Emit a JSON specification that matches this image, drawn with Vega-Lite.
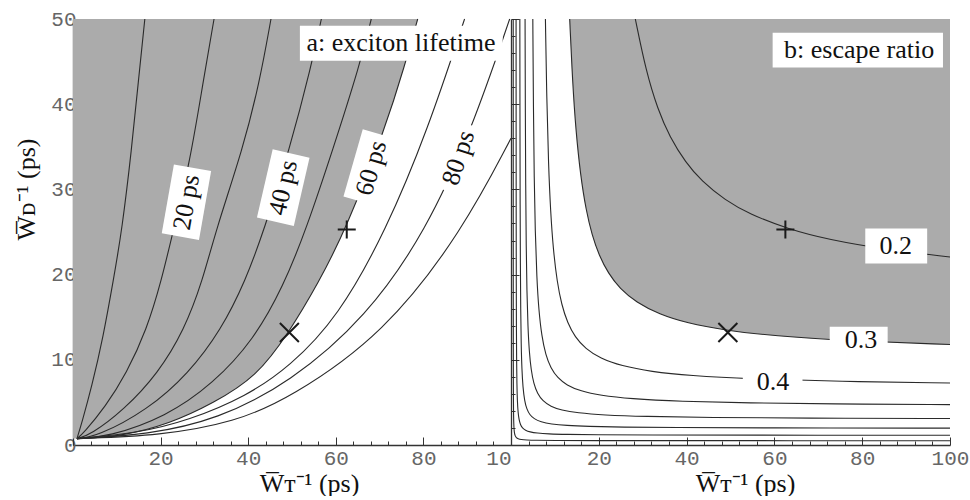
{
  "$schema": "https://vega.github.io/schema/vega-lite/v6.json",
  "background": "white",
  "padding": {"left": 13, "top": 8, "right": 0, "bottom": 0},
  "spacing": 0,
  "bounds": "flush",
  "config": {
    "view": {"stroke": null},
    "axis": {
      "grid": false,
      "domainColor": "#333",
      "domainWidth": 1.3,
      "tickColor": "#333",
      "tickWidth": 1,
      "labelFont": "Liberation Mono",
      "labelFontSize": 21,
      "labelColor": "#666",
      "labelFlush": false,
      "labelOverlap": false,
      "labelBound": false,
      "titleFont": "Liberation Serif",
      "titleFontSize": 26,
      "titleFontWeight": "normal",
      "titleColor": "#111"
    }
  },
  "datasets": {
    "lifeLines": [
      {"tau": 10, "x": 0.9, "y": 0.75}, {"tau": 10, "x": 1.98, "y": 2.54}, {"tau": 10, "x": 4.26, "y": 6.8}, {"tau": 10, "x": 6.9, "y": 12.7}, {"tau": 10, "x": 9.2, "y": 19.3}, {"tau": 10, "x": 11.2, "y": 25.3}, {"tau": 10, "x": 13.4, "y": 34.8}, {"tau": 10, "x": 14.9, "y": 42.6}, {"tau": 10, "x": 16.4, "y": 50},
      {"tau": 20, "x": 0.9, "y": 0.75}, {"tau": 20, "x": 2.35, "y": 1.37}, {"tau": 20, "x": 7.4, "y": 4.5}, {"tau": 20, "x": 12.2, "y": 8.4}, {"tau": 20, "x": 16.8, "y": 13.5}, {"tau": 20, "x": 20.2, "y": 19.3}, {"tau": 20, "x": 22.9, "y": 25.2}, {"tau": 20, "x": 26.7, "y": 33.2}, {"tau": 20, "x": 29.7, "y": 42.6}, {"tau": 20, "x": 32.2, "y": 50},
      {"tau": 30, "x": 0.9, "y": 0.75}, {"tau": 30, "x": 3.9, "y": 1.17}, {"tau": 30, "x": 11.6, "y": 4.1}, {"tau": 30, "x": 19.4, "y": 8.4}, {"tau": 30, "x": 25.4, "y": 13.5}, {"tau": 30, "x": 29.6, "y": 19.3}, {"tau": 30, "x": 32.6, "y": 25.2}, {"tau": 30, "x": 38.8, "y": 34.8}, {"tau": 30, "x": 42.6, "y": 42.6}, {"tau": 30, "x": 45.2, "y": 50},
      {"tau": 40, "x": 0.9, "y": 0.75}, {"tau": 40, "x": 5.4, "y": 0.97}, {"tau": 40, "x": 17.0, "y": 4.1}, {"tau": 40, "x": 26.4, "y": 8.4}, {"tau": 40, "x": 33.8, "y": 13.5}, {"tau": 40, "x": 39.4, "y": 19.3}, {"tau": 40, "x": 43.6, "y": 25.2}, {"tau": 40, "x": 49.5, "y": 34.8}, {"tau": 40, "x": 54.4, "y": 44.5}, {"tau": 40, "x": 56.7, "y": 50},
      {"tau": 50, "x": 0.9, "y": 0.75}, {"tau": 50, "x": 8.0, "y": 0.95}, {"tau": 50, "x": 21.2, "y": 3.3}, {"tau": 50, "x": 32.0, "y": 7.2}, {"tau": 50, "x": 41.2, "y": 12.3}, {"tau": 50, "x": 48.0, "y": 18.6}, {"tau": 50, "x": 53.3, "y": 25.4}, {"tau": 50, "x": 59.4, "y": 34.8}, {"tau": 50, "x": 65.4, "y": 44.5}, {"tau": 50, "x": 68.1, "y": 50},
      {"tau": 60, "x": 0.9, "y": 0.75}, {"tau": 60, "x": 10.7, "y": 0.97}, {"tau": 60, "x": 22.1, "y": 2.5}, {"tau": 60, "x": 32.0, "y": 4.9}, {"tau": 60, "x": 41.9, "y": 8.0}, {"tau": 60, "x": 49.3, "y": 13.2}, {"tau": 60, "x": 56.0, "y": 19.0}, {"tau": 60, "x": 62.4, "y": 25.4}, {"tau": 60, "x": 71.5, "y": 37.5}, {"tau": 60, "x": 75.7, "y": 44.5}, {"tau": 60, "x": 78.7, "y": 50},
      {"tau": 70, "x": 0.9, "y": 0.75}, {"tau": 70, "x": 14.5, "y": 1.37}, {"tau": 70, "x": 26.5, "y": 2.9}, {"tau": 70, "x": 39.5, "y": 5.7}, {"tau": 70, "x": 49.5, "y": 9.2}, {"tau": 70, "x": 60.5, "y": 15.0}, {"tau": 70, "x": 71.5, "y": 25.2}, {"tau": 70, "x": 81.0, "y": 37.0}, {"tau": 70, "x": 89.4, "y": 50},
      {"tau": 80, "x": 0.9, "y": 0.75}, {"tau": 80, "x": 17.0, "y": 1.2}, {"tau": 80, "x": 33.0, "y": 3.0}, {"tau": 80, "x": 49.5, "y": 7.3}, {"tau": 80, "x": 67.0, "y": 15.0}, {"tau": 80, "x": 80.7, "y": 25.2}, {"tau": 80, "x": 91.0, "y": 37.0}, {"tau": 80, "x": 99.7, "y": 50},
      {"tau": 90, "x": 0.9, "y": 0.75}, {"tau": 90, "x": 20.0, "y": 1.1}, {"tau": 90, "x": 37.0, "y": 2.7}, {"tau": 90, "x": 49.5, "y": 5.5}, {"tau": 90, "x": 71.0, "y": 13.0}, {"tau": 90, "x": 89.0, "y": 25.2}, {"tau": 90, "x": 100, "y": 36.0}
    ],
    "lifeShade": [
      {"x": 0.9, "y": 0.75}, {"x": 10.7, "y": 0.97}, {"x": 22.1, "y": 2.5}, {"x": 32.0, "y": 4.9}, {"x": 41.9, "y": 8.0}, {"x": 49.3, "y": 13.2}, {"x": 56.0, "y": 19.0}, {"x": 62.4, "y": 25.4}, {"x": 71.5, "y": 37.5}, {"x": 75.7, "y": 44.5}, {"x": 78.7, "y": 50}
    ],
    "escLines": [
      {"phi": 0.2, "x": 28.32, "y": 50}, {"phi": 0.2, "x": 30.74, "y": 43.91}, {"phi": 0.2, "x": 33.45, "y": 39.35}, {"phi": 0.2, "x": 36.16, "y": 36.16}, {"phi": 0.2, "x": 39.78, "y": 33.15}, {"phi": 0.2, "x": 43.39, "y": 30.99}, {"phi": 0.2, "x": 48.82, "y": 28.71}, {"phi": 0.2, "x": 54.24, "y": 27.12}, {"phi": 0.2, "x": 63.28, "y": 25.31}, {"phi": 0.2, "x": 72.32, "y": 24.11}, {"phi": 0.2, "x": 84.98, "y": 22.97}, {"phi": 0.2, "x": 100, "y": 22.07},
      {"phi": 0.3, "x": 13.37, "y": 50}, {"phi": 0.3, "x": 14.03, "y": 42.52}, {"phi": 0.3, "x": 14.77, "y": 36.93}, {"phi": 0.3, "x": 15.83, "y": 31.65}, {"phi": 0.3, "x": 17.09, "y": 27.57}, {"phi": 0.3, "x": 18.46, "y": 24.62}, {"phi": 0.3, "x": 20.05, "y": 22.27}, {"phi": 0.3, "x": 22.16, "y": 20.14}, {"phi": 0.3, "x": 24.79, "y": 18.36}, {"phi": 0.3, "x": 28.49, "y": 16.76}, {"phi": 0.3, "x": 33.76, "y": 15.35}, {"phi": 0.3, "x": 40.09, "y": 14.32}, {"phi": 0.3, "x": 48.53, "y": 13.48}, {"phi": 0.3, "x": 60.14, "y": 12.79}, {"phi": 0.3, "x": 75.96, "y": 12.25}, {"phi": 0.3, "x": 100, "y": 11.79},
      {"phi": 0.4, "x": 7.84, "y": 50}, {"phi": 0.4, "x": 8.136, "y": 40.68}, {"phi": 0.4, "x": 8.543, "y": 32.86}, {"phi": 0.4, "x": 9.017, "y": 27.33}, {"phi": 0.4, "x": 9.628, "y": 22.92}, {"phi": 0.4, "x": 10.51, "y": 19.11}, {"phi": 0.4, "x": 11.53, "y": 16.47}, {"phi": 0.4, "x": 12.88, "y": 14.31}, {"phi": 0.4, "x": 14.58, "y": 12.68}, {"phi": 0.4, "x": 16.95, "y": 11.3}, {"phi": 0.4, "x": 20.34, "y": 10.17}, {"phi": 0.4, "x": 25.09, "y": 9.29}, {"phi": 0.4, "x": 31.87, "y": 8.61}, {"phi": 0.4, "x": 40.68, "y": 8.136}, {"phi": 0.4, "x": 54.24, "y": 7.749}, {"phi": 0.4, "x": 74.58, "y": 7.458}, {"phi": 0.4, "x": 100, "y": 7.27},
      {"phi": 0.5, "x": 4.969, "y": 50}, {"phi": 0.5, "x": 5.108, "y": 39.29}, {"phi": 0.5, "x": 5.288, "y": 31.11}, {"phi": 0.5, "x": 5.514, "y": 25.07}, {"phi": 0.5, "x": 5.876, "y": 19.59}, {"phi": 0.5, "x": 6.328, "y": 15.82}, {"phi": 0.5, "x": 7.006, "y": 12.74}, {"phi": 0.5, "x": 7.91, "y": 10.55}, {"phi": 0.5, "x": 9.04, "y": 9.04}, {"phi": 0.5, "x": 10.62, "y": 7.868}, {"phi": 0.5, "x": 12.66, "y": 7.031}, {"phi": 0.5, "x": 15.82, "y": 6.328}, {"phi": 0.5, "x": 20.34, "y": 5.811}, {"phi": 0.5, "x": 27.12, "y": 5.424}, {"phi": 0.5, "x": 38.42, "y": 5.123}, {"phi": 0.5, "x": 54.24, "y": 4.931}, {"phi": 0.5, "x": 72.32, "y": 4.821}, {"phi": 0.5, "x": 100, "y": 4.734},
      {"phi": 0.6, "x": 3.206, "y": 50}, {"phi": 0.6, "x": 3.269, "y": 38.46}, {"phi": 0.6, "x": 3.344, "y": 30.4}, {"phi": 0.6, "x": 3.465, "y": 23.1}, {"phi": 0.6, "x": 3.616, "y": 18.08}, {"phi": 0.6, "x": 3.857, "y": 13.77}, {"phi": 0.6, "x": 4.158, "y": 10.94}, {"phi": 0.6, "x": 4.58, "y": 8.807}, {"phi": 0.6, "x": 5.182, "y": 7.198}, {"phi": 0.6, "x": 6.026, "y": 6.026}, {"phi": 0.6, "x": 7.231, "y": 5.165}, {"phi": 0.6, "x": 9.039, "y": 4.52}, {"phi": 0.6, "x": 11.45, "y": 4.089}, {"phi": 0.6, "x": 15.07, "y": 3.766}, {"phi": 0.6, "x": 21.09, "y": 3.515}, {"phi": 0.6, "x": 30.13, "y": 3.348}, {"phi": 0.6, "x": 45.2, "y": 3.228}, {"phi": 0.6, "x": 66.29, "y": 3.156}, {"phi": 0.6, "x": 100, "y": 3.107},
      {"phi": 0.7, "x": 2.015, "y": 50}, {"phi": 0.7, "x": 2.044, "y": 37.15}, {"phi": 0.7, "x": 2.082, "y": 27.76}, {"phi": 0.7, "x": 2.131, "y": 21.31}, {"phi": 0.7, "x": 2.208, "y": 15.77}, {"phi": 0.7, "x": 2.324, "y": 11.62}, {"phi": 0.7, "x": 2.479, "y": 8.855}, {"phi": 0.7, "x": 2.712, "y": 6.78}, {"phi": 0.7, "x": 3.099, "y": 5.165}, {"phi": 0.7, "x": 3.583, "y": 4.216}, {"phi": 0.7, "x": 4.261, "y": 3.551}, {"phi": 0.7, "x": 5.23, "y": 3.076}, {"phi": 0.7, "x": 6.78, "y": 2.712}, {"phi": 0.7, "x": 9.104, "y": 2.461}, {"phi": 0.7, "x": 12.59, "y": 2.289}, {"phi": 0.7, "x": 17.43, "y": 2.179}, {"phi": 0.7, "x": 25.18, "y": 2.098}, {"phi": 0.7, "x": 36.8, "y": 2.045}, {"phi": 0.7, "x": 56.17, "y": 2.006}, {"phi": 0.7, "x": 100, "y": 1.975},
      {"phi": 0.8, "x": 1.156, "y": 50}, {"phi": 0.8, "x": 1.166, "y": 36.44}, {"phi": 0.8, "x": 1.181, "y": 26.24}, {"phi": 0.8, "x": 1.203, "y": 18.51}, {"phi": 0.8, "x": 1.232, "y": 13.69}, {"phi": 0.8, "x": 1.277, "y": 9.822}, {"phi": 0.8, "x": 1.345, "y": 7.077}, {"phi": 0.8, "x": 1.446, "y": 5.166}, {"phi": 0.8, "x": 1.605, "y": 3.821}, {"phi": 0.8, "x": 1.831, "y": 2.953}, {"phi": 0.8, "x": 2.147, "y": 2.386}, {"phi": 0.8, "x": 2.599, "y": 1.999}, {"phi": 0.8, "x": 3.277, "y": 1.725}, {"phi": 0.8, "x": 4.294, "y": 1.534}, {"phi": 0.8, "x": 5.876, "y": 1.399}, {"phi": 0.8, "x": 8.475, "y": 1.304}, {"phi": 0.8, "x": 12.43, "y": 1.243}, {"phi": 0.8, "x": 19.21, "y": 1.201}, {"phi": 0.8, "x": 30.51, "y": 1.173}, {"phi": 0.8, "x": 51.98, "y": 1.155}, {"phi": 0.8, "x": 100, "y": 1.143},
      {"phi": 0.9, "x": 0.507, "y": 50}, {"phi": 0.9, "x": 0.5095, "y": 33.97}, {"phi": 0.9, "x": 0.513, "y": 23.32}, {"phi": 0.9, "x": 0.5186, "y": 15.71}, {"phi": 0.9, "x": 0.5271, "y": 10.54}, {"phi": 0.9, "x": 0.5397, "y": 7.195}, {"phi": 0.9, "x": 0.5572, "y": 5.066}, {"phi": 0.9, "x": 0.5873, "y": 3.455}, {"phi": 0.9, "x": 0.6325, "y": 2.433}, {"phi": 0.9, "x": 0.7028, "y": 1.757}, {"phi": 0.9, "x": 0.8032, "y": 1.339}, {"phi": 0.9, "x": 0.9538, "y": 1.06}, {"phi": 0.9, "x": 1.205, "y": 0.8606}, {"phi": 0.9, "x": 1.606, "y": 0.7302}, {"phi": 0.9, "x": 2.259, "y": 0.6454}, {"phi": 0.9, "x": 3.514, "y": 0.5857}, {"phi": 0.9, "x": 5.522, "y": 0.5522}, {"phi": 0.9, "x": 9.538, "y": 0.5299}, {"phi": 0.9, "x": 18.07, "y": 0.5163}, {"phi": 0.9, "x": 40.66, "y": 0.5083}, {"phi": 0.9, "x": 100, "y": 0.5045}
    ],
    "escShade": [
      {"x": 13.37, "y": 50}, {"x": 14.03, "y": 42.52}, {"x": 14.77, "y": 36.93}, {"x": 15.83, "y": 31.65}, {"x": 17.09, "y": 27.57}, {"x": 18.46, "y": 24.62}, {"x": 20.05, "y": 22.27}, {"x": 22.16, "y": 20.14}, {"x": 24.79, "y": 18.36}, {"x": 28.49, "y": 16.76}, {"x": 33.76, "y": 15.35}, {"x": 40.09, "y": 14.32}, {"x": 48.53, "y": 13.48}, {"x": 60.14, "y": 12.79}, {"x": 75.96, "y": 12.25}, {"x": 100, "y": 11.79}
    ],
    "lifeLabels": [
      {"t": "20 ps", "x": 25.9, "y": 28.5},
      {"t": "40 ps", "x": 48.0, "y": 30.2},
      {"t": "60 ps", "x": 68.1, "y": 32.5},
      {"t": "80 ps", "x": 88.0, "y": 33.7}
    ],
    "markers": [
      {"m": "plus", "x": 62.5, "y": 25.3},
      {"m": "cross", "x": 49.4, "y": 13.2}
    ],
    "frame": [{"y": 0, "y2": 50}]
  },
  "hconcat": [
    {
      "width": 438,
      "height": 426,
      "encoding": {
        "x": {
          "field": "x", "type": "quantitative",
          "scale": {"domain": [0, 100], "nice": false, "zero": false},
          "axis": {
            "values": [0,4,8,12,16,20,24,28,32,36,40,44,48,52,56,60,64,68,72,76,80,84,88,92,96,100],
            "labelExpr": "datum.value == 100 ? '10' : ((datum.value % 20 == 0 && datum.value > 0) ? datum.label : '')",
            "labelAlign": {"condition": {"test": "datum.value == 100", "value": "right"}, "value": "center"},
            "tickSize": {"condition": {"test": "datum.value % 20 == 0", "value": -8}, "value": -4},
            "labelPadding": 10,
            "title": "W̅ᴛ⁻¹ (ps)",
            "titleX": 236,
            "titleY": 46,
            "titleBaseline": "alphabetic"
          }
        },
        "y": {
          "field": "y", "type": "quantitative",
          "scale": {"domain": [0, 50], "nice": false, "zero": false},
          "axis": {
            "values": [0,2,4,6,8,10,12,14,16,18,20,22,24,26,28,30,32,34,36,38,40,42,44,46,48,50],
            "labelExpr": "datum.value % 10 == 0 ? datum.label : ''",
            "tickSize": {"condition": {"test": "datum.value % 10 == 0", "value": -8}, "value": -4},
            "labelPadding": 5,
            "titlePadding": 11,
            "title": "W̅ᴅ⁻¹ (ps)",
            "titleY": 170
          }
        }
      },
      "layer": [
        {
          "data": {"name": "lifeShade"},
          "mark": {"type": "area", "orient": "horizontal", "color": "#ababab", "interpolate": "basis"},
          "encoding": {"x2": {"datum": 0}}
        },
        {
          "data": {"name": "lifeLines"},
          "mark": {"type": "line", "color": "#2a2a2a", "strokeWidth": 1.1, "interpolate": "basis"},
          "encoding": {"detail": {"field": "tau"}, "order": {"field": "y", "type": "quantitative"}}
        },
        {
          "data": {"name": "frame"},
          "mark": {"type": "rule", "color": "#333", "strokeWidth": 1.3},
          "encoding": {"x": {"datum": 100, "type": "quantitative"}, "y2": {"field": "y2"}}
        },
        {
          "data": {"values": [{"x": 51.8, "x2": 98.1, "y": 45.1, "y2": 49.2}]},
          "mark": {"type": "rect", "color": "white"},
          "encoding": {"x2": {"field": "x2"}, "y2": {"field": "y2"}}
        },
        {
          "data": {"values": [{"x": 74.9, "y": 47.2, "t": "a: exciton lifetime"}]},
          "mark": {"type": "text", "font": "Liberation Serif", "fontSize": 26, "baseline": "middle", "color": "#111"},
          "encoding": {"text": {"field": "t"}}
        },
        {
          "data": {"name": "lifeLabels"},
          "transform": [{"filter": "datum.t == '20 ps'"}],
          "layer": [
            {"mark": {"type": "point", "shape": "M-1,-0.54L1,-0.54L1,0.54L-1,0.54Z", "size": 4900, "filled": true, "color": "white", "opacity": 1, "angle": 280}},
            {"mark": {"type": "text", "font": "Liberation Serif", "fontSize": 26, "baseline": "middle", "color": "#111", "angle": 280}, "encoding": {"text": {"field": "t"}}}
          ]
        },
        {
          "data": {"name": "lifeLabels"},
          "transform": [{"filter": "datum.t == '40 ps'"}],
          "layer": [
            {"mark": {"type": "point", "shape": "M-1,-0.54L1,-0.54L1,0.54L-1,0.54Z", "size": 4900, "filled": true, "color": "white", "opacity": 1, "angle": 283}},
            {"mark": {"type": "text", "font": "Liberation Serif", "fontSize": 26, "baseline": "middle", "color": "#111", "angle": 283}, "encoding": {"text": {"field": "t"}}}
          ]
        },
        {
          "data": {"name": "lifeLabels"},
          "transform": [{"filter": "datum.t == '60 ps'"}],
          "layer": [
            {"mark": {"type": "point", "shape": "M-1,-0.54L1,-0.54L1,0.54L-1,0.54Z", "size": 4900, "filled": true, "color": "white", "opacity": 1, "angle": 286}},
            {"mark": {"type": "text", "font": "Liberation Serif", "fontSize": 26, "baseline": "middle", "color": "#111", "angle": 286}, "encoding": {"text": {"field": "t"}}}
          ]
        },
        {
          "data": {"name": "lifeLabels"},
          "transform": [{"filter": "datum.t == '80 ps'"}],
          "layer": [
            {"mark": {"type": "point", "shape": "M-1,-0.54L1,-0.54L1,0.54L-1,0.54Z", "size": 4900, "filled": true, "color": "white", "opacity": 1, "angle": 288}},
            {"mark": {"type": "text", "font": "Liberation Serif", "fontSize": 26, "baseline": "middle", "color": "#111", "angle": 288}, "encoding": {"text": {"field": "t"}}}
          ]
        },
        {
          "data": {"name": "markers"},
          "transform": [{"filter": "datum.m == 'plus'"}],
          "mark": {"type": "point", "shape": "M-1,0L1,0M0,-1L0,1", "size": 324, "filled": false, "color": "#1a1a1a", "strokeWidth": 2, "opacity": 1}
        },
        {
          "data": {"name": "markers"},
          "transform": [{"filter": "datum.m == 'cross'"}],
          "mark": {"type": "point", "shape": "M-1,-1L1,1M-1,1L1,-1", "size": 361, "filled": false, "color": "#1a1a1a", "strokeWidth": 2, "opacity": 1}
        }
      ]
    },
    {
      "width": 439,
      "height": 426,
      "encoding": {
        "x": {
          "field": "x", "type": "quantitative",
          "scale": {"domain": [0, 100], "nice": false, "zero": false},
          "axis": {
            "values": [0,4,8,12,16,20,24,28,32,36,40,44,48,52,56,60,64,68,72,76,80,84,88,92,96,100],
            "labelExpr": "(datum.value % 20 == 0 && datum.value > 0) ? datum.label : ''",
            "tickSize": {"condition": {"test": "datum.value % 20 == 0", "value": -8}, "value": -4},
            "labelPadding": 10,
            "title": "W̅ᴛ⁻¹ (ps)",
            "titleX": 234,
            "titleY": 46,
            "titleBaseline": "alphabetic"
          }
        },
        "y": {
          "field": "y", "type": "quantitative",
          "scale": {"domain": [0, 50], "nice": false, "zero": false},
          "axis": {
            "values": [0,2,4,6,8,10,12,14,16,18,20,22,24,26,28,30,32,34,36,38,40,42,44,46,48,50],
            "labels": false,
            "tickSize": {"condition": {"test": "datum.value % 10 == 0", "value": -8}, "value": -4},
            "title": null
          }
        }
      },
      "layer": [
        {
          "data": {"name": "escShade"},
          "mark": {"type": "area", "orient": "horizontal", "color": "#ababab", "interpolate": "basis"},
          "encoding": {"x2": {"datum": 100}}
        },
        {
          "data": {"name": "escLines"},
          "mark": {"type": "line", "color": "#2a2a2a", "strokeWidth": 1.1, "interpolate": "basis"},
          "encoding": {"detail": {"field": "phi"}}
        },
        {
          "data": {"name": "frame"},
          "mark": {"type": "rule", "color": "#333", "strokeWidth": 1.3},
          "encoding": {"x": {"datum": 100, "type": "quantitative"}, "y2": {"field": "y2"}}
        },
        {
          "data": {"values": [
            {"x": 59.6, "x2": 98.4, "y": 44.3, "y2": 48.4},
            {"x": 80.7, "x2": 94.8, "y": 21.3, "y2": 25.4},
            {"x": 72.6, "x2": 85.8, "y": 10.9, "y2": 13.87},
            {"x": 52.8, "x2": 66.4, "y": 6.3, "y2": 8.6}
          ]},
          "mark": {"type": "rect", "color": "white"},
          "encoding": {"x2": {"field": "x2"}, "y2": {"field": "y2"}}
        },
        {
          "data": {"values": [
            {"x": 79.3, "y": 46.4, "t": "b: escape ratio"},
            {"x": 87.65, "y": 23.33, "t": "0.2"},
            {"x": 79.7, "y": 12.3, "t": "0.3"},
            {"x": 59.7, "y": 7.44, "t": "0.4"}
          ]},
          "mark": {"type": "text", "font": "Liberation Serif", "fontSize": 26, "baseline": "middle", "color": "#111"},
          "encoding": {"text": {"field": "t"}}
        },
        {
          "data": {"name": "markers"},
          "transform": [{"filter": "datum.m == 'plus'"}],
          "mark": {"type": "point", "shape": "M-1,0L1,0M0,-1L0,1", "size": 324, "filled": false, "color": "#1a1a1a", "strokeWidth": 2, "opacity": 1}
        },
        {
          "data": {"name": "markers"},
          "transform": [{"filter": "datum.m == 'cross'"}],
          "mark": {"type": "point", "shape": "M-1,-1L1,1M-1,1L1,-1", "size": 361, "filled": false, "color": "#1a1a1a", "strokeWidth": 2, "opacity": 1}
        }
      ]
    }
  ]
}
